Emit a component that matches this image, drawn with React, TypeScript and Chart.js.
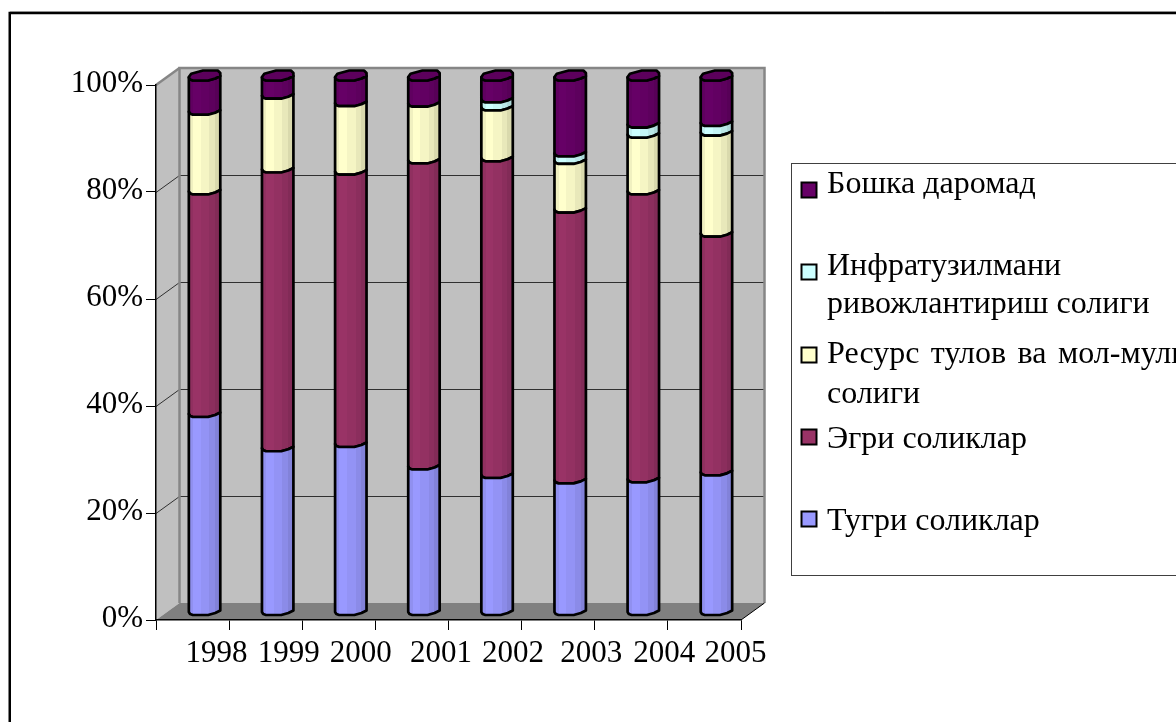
import React, { useEffect, useRef } from "react";
import { Chart, registerables } from "chart.js";

Chart.register(...registerables);

const categories = ["1998", "1999", "2000", "2001", "2002", "2003", "2004", "2005"];
const direct = [37.1, 30.7, 31.5, 27.3, 25.7, 24.7, 24.9, 26.2];
const indirect = [41.6, 52.1, 50.9, 57.2, 59.2, 50.6, 53.8, 44.6];
const resource = [14.9, 13.8, 12.8, 10.6, 9.5, 9.1, 10.6, 18.9];
const infrastructure = [0, 0, 0, 0, 1.5, 1.4, 1.9, 1.8];
const headTax = [6.4, 3.4, 4.8, 4.9, 4.1, 14.2, 8.8, 8.5];

const seriesNames = [
  "Тугри соликлар",
  "Эгри соликлар",
  "Ресурс тулов ва мол-мулк солиги",
  "Инфратузилмани ривожлантириш солиги",
  "Бошка даромад",
];
const seriesColors = ["#9999ff", "#993366", "#ffffcc", "#ccffff", "#660066"];

const legendLines = [
  ["Тугри соликлар"],
  ["Эгри соликлар"],
  ["Ресурс тулов ва мол-мулк", "солиги"],
  ["Инфратузилмани", "ривожлантириш солиги"],
  ["Бошка даромад"],
];
const legendBaselines = [[530], [448], [363, 403], [275, 313], [193]];
const legendMarkerTops = [511, 429, 347, 264, 182];
const legendWordSpacing = [0, 0, 3.5, 0, 0];
const labelNudges = [24, 23, 22, 29, 28, 33, 33, 31];

const FONT = '"Liberation Serif"';
const DEPTH_X = 23.5;
const DEPTH_Y = -17;
const BAR_DX = 12;
const BAR_DY = -4.5;
const BANDS = [
  [0.14, 0.94],
  [0.38, 1],
  [0.65, 0.96],
  [0.83, 0.91],
  [1, 0.85],
];

function shade(hex: string, f: number) {
  const n = parseInt(hex.slice(1), 16);
  const c = [(n >> 16) & 255, (n >> 8) & 255, n & 255].map((v) => Math.round(v * f));
  return `rgb(${c[0]},${c[1]},${c[2]})`;
}

function bandFill(ctx: CanvasRenderingContext2D, x0: number, w: number, color: string) {
  const g = ctx.createLinearGradient(x0, 0, x0 + w, 0);
  let start = 0;
  for (const [end, f] of BANDS) {
    g.addColorStop(start, shade(color, f));
    g.addColorStop(end, shade(color, f));
    start = end;
  }
  return g;
}

// lower rim of a column section, left to right, relative to its flat part
function rim(x0: number, w: number, y: number) {
  const k = w / 31;
  return [
    [x0, y - 3],
    [x0 + 1.2 * k, y - 1],
    [x0 + 4 * k, y],
    [x0 + 19 * k, y],
    [x0 + 26 * k, y - 2],
    [x0 + w, y - 4.5],
  ];
}

const threeD = {
  id: "threeD",
  afterLayout(chart: any) {
    chart.scales.x.getLabelItems().forEach((it: any, i: number) => {
      it.options.translation[0] += labelNudges[i];
    });
  },
  beforeDraw(chart: any) {
    const { ctx, scales } = chart;
    const { x: xs, y: ys } = scales;
    const l = xs.left;
    const r = xs.right;
    const top = ys.getPixelForValue(100);
    const bot = ys.getPixelForValue(0);
    ctx.save();
    ctx.fillStyle = "#ffffff";
    ctx.fillRect(0, 0, chart.width, chart.height);

    // outer frame
    ctx.strokeStyle = "#000";
    ctx.lineWidth = 2.5;
    ctx.beginPath();
    ctx.moveTo(9.75, 740);
    ctx.lineTo(9.75, 13);
    ctx.lineTo(1190, 13);
    ctx.stroke();
    ctx.strokeStyle = "#909090";
    ctx.lineWidth = 1;
    ctx.beginPath();
    ctx.moveTo(10, 11.5);
    ctx.lineTo(1176, 11.5);
    ctx.stroke();

    const bx = l + DEPTH_X;
    const bt = top + DEPTH_Y;
    const bb = bot + DEPTH_Y;
    const br = r + DEPTH_X;

    // back wall, side wall, floor
    ctx.fillStyle = "#c0c0c0";
    ctx.fillRect(bx, bt, br - bx, bb - bt);
    ctx.beginPath();
    ctx.moveTo(l, top);
    ctx.lineTo(bx, bt);
    ctx.lineTo(bx, bb);
    ctx.lineTo(l, bot);
    ctx.closePath();
    ctx.fill();
    ctx.fillStyle = "#808080";
    ctx.beginPath();
    ctx.moveTo(l, bot);
    ctx.lineTo(bx, bb);
    ctx.lineTo(br, bb);
    ctx.lineTo(r, bot);
    ctx.closePath();
    ctx.fill();

    // grid
    ctx.strokeStyle = "#303030";
    ctx.lineWidth = 1;
    ys.ticks.forEach((t: any) => {
      if (t.value === 0 || t.value === 100) return;
      const y = Math.round(ys.getPixelForValue(t.value)) + 0.5;
      ctx.beginPath();
      ctx.moveTo(l, y);
      ctx.lineTo(bx, y + DEPTH_Y);
      ctx.lineTo(br, y + DEPTH_Y);
      ctx.stroke();
    });

    // wall edges
    ctx.strokeStyle = "#868686";
    ctx.lineWidth = 2.5;
    ctx.beginPath();
    ctx.moveTo(bx, bb);
    ctx.lineTo(bx, bt);
    ctx.lineTo(br, bt);
    ctx.lineTo(br, bb);
    ctx.stroke();
    ctx.beginPath();
    ctx.moveTo(l, top);
    ctx.lineTo(bx, bt);
    ctx.stroke();

    ctx.strokeStyle = "#000";
    ctx.lineWidth = 1;
    ctx.beginPath();
    ctx.moveTo(r, bot);
    ctx.lineTo(br, bb);
    ctx.stroke();
    ctx.restore();
  },
  beforeDatasetDraw(chart: any, args: any) {
    const { ctx } = chart;
    const i = args.index;
    const color = seriesColors[i];
    const isTop = i === chart.data.datasets.length - 1;
    ctx.save();
    ctx.lineJoin = "round";
    ctx.strokeStyle = "#000";
    args.meta.data.forEach((el: any, j: number) => {
      if (chart.data.datasets[i].data[j] <= 0) return;
      const { x, y, base, width } = el.getProps(["x", "y", "base", "width"]);
      const x0 = x - width / 2 + BAR_DX;
      const low = rim(x0, width, base + BAR_DY);
      const high = rim(x0, width, y + BAR_DY);
      ctx.beginPath();
      low.forEach((p, n) => (n ? ctx.lineTo(p[0], p[1]) : ctx.moveTo(p[0], p[1])));
      [...high].reverse().forEach((p) => ctx.lineTo(p[0], p[1]));
      ctx.closePath();
      ctx.fillStyle = bandFill(ctx, x0, width, color);
      ctx.fill();
      ctx.lineWidth = 2.7;
      ctx.stroke();
      if (isTop) {
        const yf = y + BAR_DY;
        const k = width / 31;
        ctx.beginPath();
        ctx.moveTo(x0, yf - 3.5);
        ctx.lineTo(x0 + 2.3 * k, yf - 6.7);
        ctx.lineTo(x0 + 14 * k, yf - 10);
        ctx.lineTo(x0 + 28.5 * k, yf - 10);
        ctx.lineTo(x0 + width, yf - 7.5);
        ctx.lineTo(x0 + width, yf - 4.5);
        high
          .slice()
          .reverse()
          .forEach((p) => ctx.lineTo(p[0], p[1]));
        ctx.closePath();
        ctx.fillStyle = shade(color, 0.9);
        ctx.fill();
        ctx.stroke();
      }
    });
    ctx.restore();
    return false;
  },
  afterDraw(chart: any) {
    const { ctx } = chart;
    ctx.save();
    // legend box
    ctx.strokeStyle = "#404040";
    ctx.lineWidth = 1;
    ctx.strokeRect(791.5, 163.5, 500, 412);
    ctx.font = `32px ${FONT}`;
    ctx.textAlign = "left";
    ctx.textBaseline = "alphabetic";
    ctx.fillStyle = "#000";
    legendLines.forEach((lines, i) => {
      const t = legendMarkerTops[i];
      ctx.fillStyle = seriesColors[i];
      ctx.fillRect(801.5, t + 0.5, 15, 15);
      ctx.strokeStyle = "#000";
      ctx.lineWidth = 2;
      ctx.strokeRect(801.5, t + 0.5, 15, 15);
      ctx.fillStyle = "#000";
      (ctx as any).wordSpacing = `${legendWordSpacing[i]}px`;
      lines.forEach((s, n) => ctx.fillText(s, 827, legendBaselines[i][n]));
    });
    ctx.restore();
  },
};

export default function App() {
  const ref = useRef<HTMLCanvasElement>(null);
  useEffect(() => {
    const chart = new Chart(ref.current as HTMLCanvasElement, {
      type: "bar",
      data: {
        labels: categories,
        datasets: [direct, indirect, resource, infrastructure, headTax].map((data, i) => ({
          label: seriesNames[i],
          data,
          backgroundColor: seriesColors[i],
          borderColor: "#000",
          borderWidth: 2,
        })),
      },
      options: {
        responsive: false,
        animation: false,
        barPercentage: 0.43,
        categoryPercentage: 1,
        layout: { padding: { top: 85, right: 435, left: 0, bottom: 0 } },
        plugins: { legend: { display: false }, title: { display: false }, tooltip: { enabled: false } },
        scales: {
          x: {
            stacked: true,
            afterFit: (s: any) => {
              s.height = 102;
            },
            grid: { drawOnChartArea: false, color: "#000", tickLength: 10, tickWidth: 1 },
            border: { color: "#000", width: 1.5 },
            ticks: {
              color: "#000",
              font: { family: FONT, size: 31 },
              maxRotation: 0,
              autoSkip: false,
              padding: 5,
            },
          },
          y: {
            stacked: true,
            min: 0,
            max: 100,
            afterFit: (s: any) => {
              s.width = 156;
            },
            grid: { drawOnChartArea: false, color: "#000", tickLength: 10, tickWidth: 1 },
            border: { color: "#000", width: 1.5 },
            ticks: {
              stepSize: 20,
              color: "#000",
              font: { family: FONT, size: 31 },
              padding: 3,
              labelOffset: -1,
              callback: (v: any) => `${v}%`,
            },
          },
        },
      } as any,
      plugins: [threeD as any],
    });
    return () => chart.destroy();
  }, []);
  return (
    <div style={{ position: "fixed", left: 0, top: 0, width: 1176, height: 722, overflow: "hidden" }}>
      <canvas ref={ref} width={1176} height={722} style={{ display: "block" }} />
    </div>
  );
}
